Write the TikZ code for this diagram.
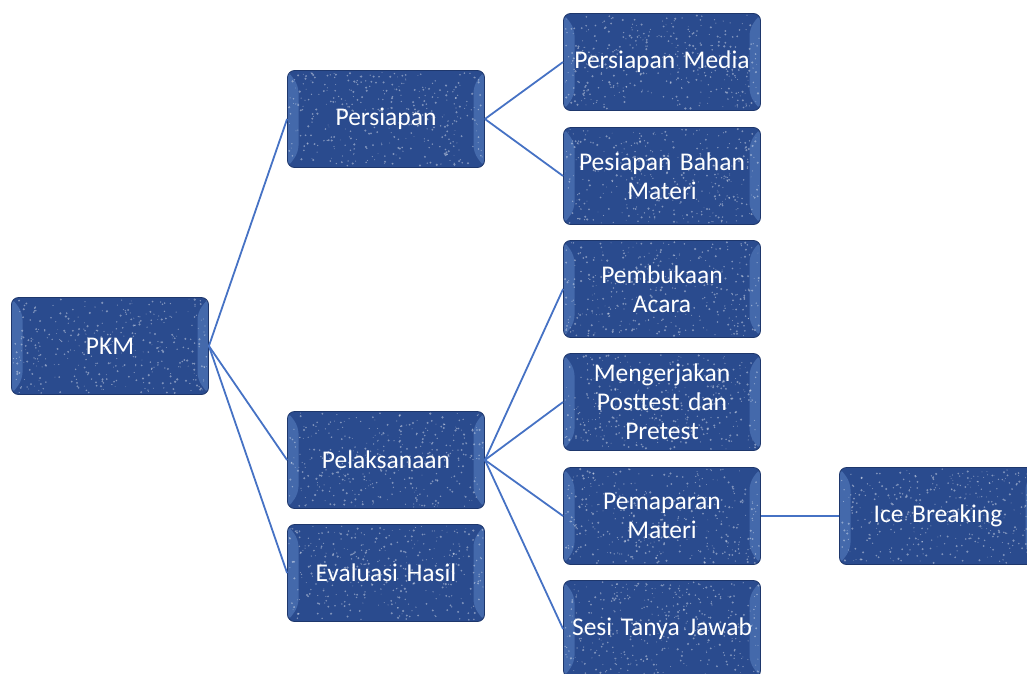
\documentclass[tikz,border=0pt]{standalone}
\usepackage{fontspec}
\newfontfamily\carlito[WordSpace=0.8]{Carlito}
\definecolor{boxblue}{RGB}{42,75,142}
\definecolor{boxedge}{RGB}{30,55,108}
\definecolor{bevel}{RGB}{95,135,200}
\definecolor{linkblue}{RGB}{70,114,196}
\tikzset{
  pkmbox/.style={rectangle, rounded corners=7pt, minimum width=197pt, minimum height=97pt,
    inner sep=1pt, fill=boxblue, draw=boxedge, line width=0.8pt, text=white, align=center,
    text width=195pt, font=\carlito\fontsize{25.5}{29}\selectfont,
    path picture={
      \fill[bevel, opacity=0.5] (path picture bounding box.south west) -- ++(11pt,15pt) -- ([shift={(11pt,-15pt)}]path picture bounding box.north west) -- (path picture bounding box.north west) -- cycle;
      \fill[bevel, opacity=0.5] (path picture bounding box.south east) -- ++(-11pt,15pt) -- ([shift={(-11pt,-15pt)}]path picture bounding box.north east) -- (path picture bounding box.north east) -- cycle;
      \foreach \k in {1,...,380}{
        \pgfmathsetmacro\rx{rand*97}
        \pgfmathsetmacro\ry{rand*47}
        \pgfmathsetmacro\rr{0.4+0.8*rnd}
        \fill[white, opacity=0.4] ([shift={(\rx pt,\ry pt)}]path picture bounding box.center) circle (\rr pt);
      }
    }},
  link/.style={draw=linkblue, line width=1.8pt}
}
\begin{document}
\begin{tikzpicture}[x=1pt,y=-1pt]
\pgfmathsetseed{4242}
\useasboundingbox (0,0) rectangle (1027,673);
\clip (0,0) rectangle (1027,673);
\node[pkmbox] (pkm) at (110,346) {PKM};
\node[pkmbox] (persiapan) at (386,119) {Persiapan};
\node[pkmbox] (pelaksanaan) at (386,460) {Pelaksanaan};
\node[pkmbox] (evaluasi) at (386,573) {Evaluasi Hasil};
\node[pkmbox] (media) at (662,62) {Persiapan Media};
\node[pkmbox] (bahan) at (662,176) {Pesiapan Bahan\\Materi};
\node[pkmbox] (pembukaan) at (662,289) {Pembukaan\\Acara};
\node[pkmbox] (posttest) at (662,402) {Mengerjakan\\Posttest dan\\Pretest};
\node[pkmbox] (pemaparan) at (662,516) {Pemaparan\\Materi};
\node[pkmbox] (sesi) at (662,629) {Sesi Tanya Jawab};
\node[pkmbox] (ice) at (938,516) {Ice Breaking};
\draw[link] (pkm.east) -- (persiapan.west);
\draw[link] (pkm.east) -- (pelaksanaan.west);
\draw[link] (pkm.east) -- (evaluasi.west);
\draw[link] (persiapan.east) -- (media.west);
\draw[link] (persiapan.east) -- (bahan.west);
\draw[link] (pelaksanaan.east) -- (pembukaan.west);
\draw[link] (pelaksanaan.east) -- (posttest.west);
\draw[link] (pelaksanaan.east) -- (pemaparan.west);
\draw[link] (pelaksanaan.east) -- (sesi.west);
\draw[link] (pemaparan.east) -- (ice.west);
\end{tikzpicture}
\end{document}
